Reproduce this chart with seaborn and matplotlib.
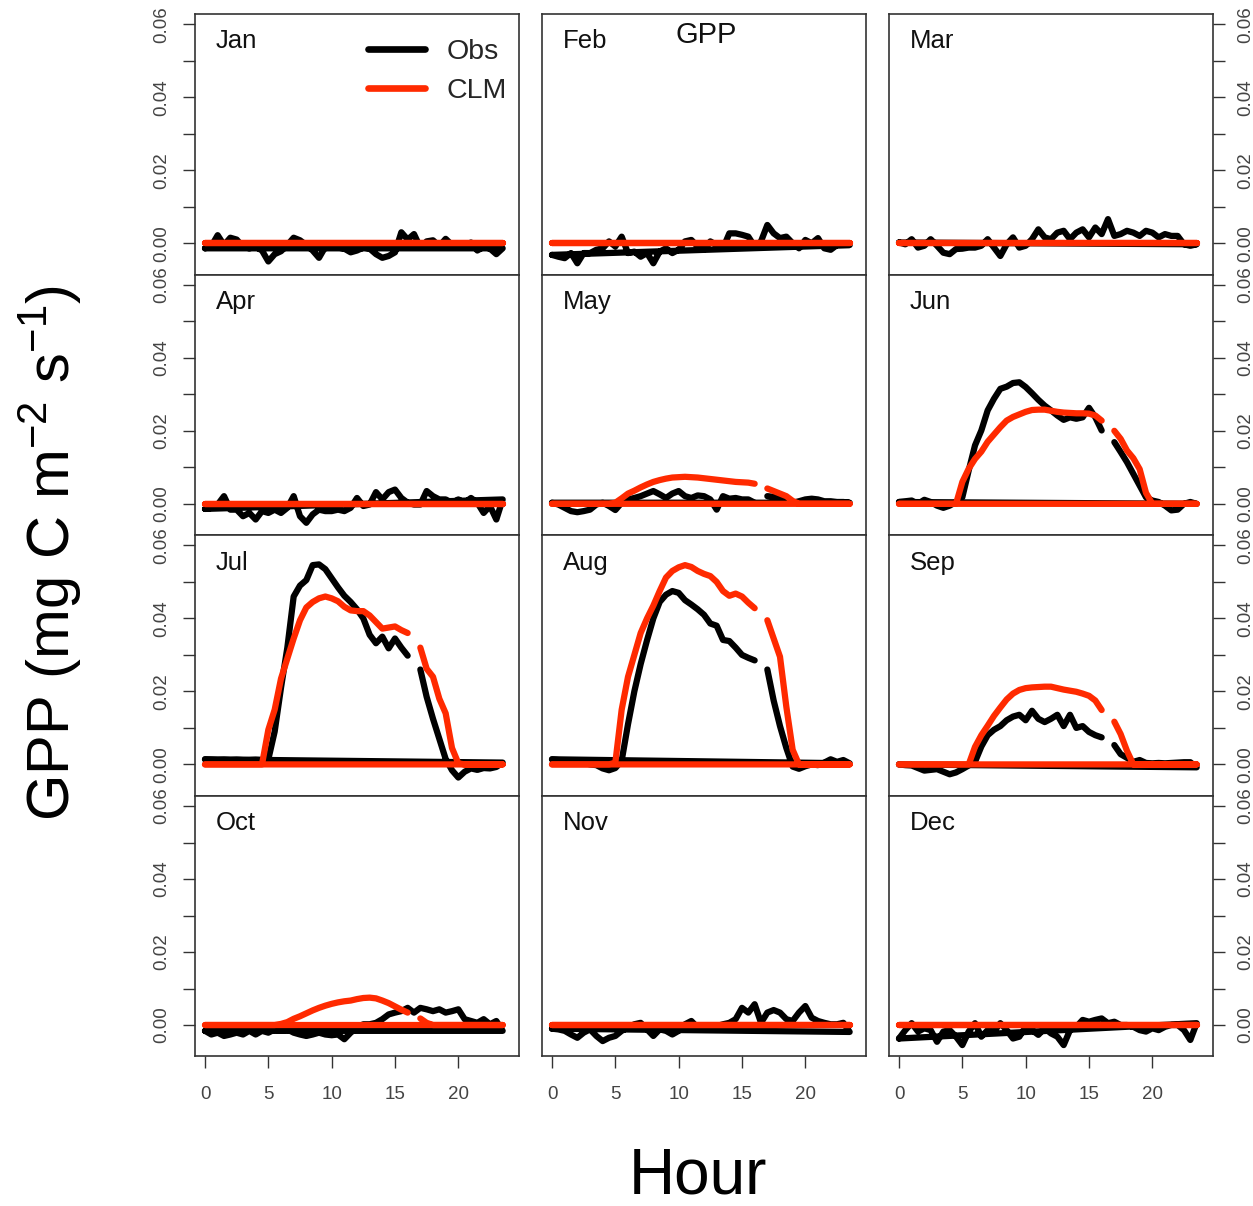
import numpy as np
import pandas as pd
import matplotlib
matplotlib.use("Agg")
import matplotlib.pyplot as plt
import seaborn as sns
from matplotlib.lines import Line2D

sns.set_theme(style="white")
plt.rcParams['font.family'] = ['Liberation Sans', 'DejaVu Sans']
plt.rcParams['mathtext.fontset'] = 'custom'
plt.rcParams['mathtext.rm'] = 'Liberation Sans'
plt.rcParams['mathtext.it'] = 'Liberation Sans:italic'
plt.rcParams['mathtext.default'] = 'regular'

# ---------------- data ----------------
months = ['Jan', 'Feb', 'Mar', 'Apr', 'May', 'Jun',
          'Jul', 'Aug', 'Sep', 'Oct', 'Nov', 'Dec']
hours = np.arange(48) * 0.5          # half-hourly time of day
xticks = [0, 5, 10, 15, 20]
yticks = [0.00, 0.01, 0.02, 0.03, 0.04, 0.05, 0.06]
ytick_labels = ['0.00', '', '0.02', '', '0.04', '', '0.06']
nan = np.nan

obs_jan = [-0.0014, -0.0008, 0.0022, -0.0005, 0.0015, 0.0010, -0.0010, -0.0014, -0.0010, -0.0020, -0.0050, -0.0030,
           -0.0022, -0.0005, 0.0015, 0.0008, -0.0005, -0.0020, -0.0040, -0.0010, -0.0008, -0.0012, -0.0015, -0.0025,
           -0.0020, -0.0012, -0.0015, -0.0030, -0.0040, -0.0035, -0.0025, 0.0030, 0.0010, 0.0025, -0.0012, 0.0005,
           0.0008, -0.0008, 0.0012, -0.0005, -0.0010, -0.0008, 0.0002, -0.0020, -0.0010, -0.0015, -0.0030, -0.0014]
obs_feb = [-0.0032, -0.0037, -0.0041, -0.0027, -0.0055, -0.0027, -0.0027, -0.0018, -0.0014, 0.0005, -0.0009, 0.0018,
           -0.0027, -0.0023, -0.0037, -0.0027, -0.0055, -0.0023, -0.0014, -0.0027, -0.0018, 0.0005, 0.0009, -0.0009,
           -0.0018, 0.0005, -0.0005, -0.0014, 0.0027, 0.0027, 0.0023, 0.0018, -0.0009, 0.0005, 0.0050, 0.0027,
           0.0014, 0.0018, 0.0000, -0.0014, 0.0009, 0.0000, 0.0014, -0.0014, -0.0018, -0.0005, -0.0005, -0.0005]
obs_mar = [0.0002, -0.0003, 0.0011, -0.0012, -0.0007, 0.0011, -0.0007, -0.0026, -0.0030, -0.0016, -0.0015, -0.0012,
           -0.0012, -0.0007, 0.0011, -0.0012, -0.0035, -0.0003, 0.0016, -0.0012, -0.0007, 0.0011, 0.0038, 0.0016,
           0.0011, 0.0029, 0.0034, 0.0011, 0.0029, 0.0038, 0.0016, 0.0043, 0.0025, 0.0066, 0.0020, 0.0025,
           0.0034, 0.0029, 0.0020, 0.0034, 0.0029, 0.0016, 0.0025, 0.0020, 0.0020, -0.0003, -0.0007, -0.0003]
obs_apr = [-0.0014, -0.0011, -0.0002, 0.0021, -0.0016, -0.0016, -0.0034, -0.0025, -0.0043, -0.0020, -0.0025, -0.0016,
           -0.0025, -0.0011, 0.0021, -0.0034, -0.0052, -0.0029, -0.0016, -0.0020, -0.0020, -0.0016, -0.0020, -0.0011,
           0.0016, -0.0006, -0.0002, 0.0032, 0.0012, 0.0032, 0.0039, 0.0016, 0.0003, -0.0002, -0.0002, 0.0035,
           0.0021, 0.0012, 0.0012, 0.0003, 0.0012, 0.0003, 0.0016, 0.0003, -0.0025, -0.0006, -0.0043, 0.0012]
obs_may = [0.0003, -0.0002, -0.0011, -0.0020, -0.0023, -0.0020, -0.0016, -0.0002, 0.0003, -0.0006, -0.0017, 0.0003,
           0.0012, 0.0016, 0.0021, 0.0028, 0.0035, 0.0026, 0.0016, 0.0028, 0.0035, 0.0021, 0.0016, 0.0023,
           0.0021, 0.0012, -0.0016, 0.0021, 0.0014, 0.0016, 0.0012, 0.0012, 0.0003, nan, 0.0021, 0.0019,
           0.0012, 0.0007, 0.0003, 0.0007, 0.0012, 0.0014, 0.0012, 0.0007, 0.0007, 0.0005, 0.0005, 0.0003]
obs_jun = [0.0005, 0.0007, 0.0009, 0.0000, 0.0011, 0.0005, -0.0005, -0.0011, -0.0005, 0.0005, 0.0018, 0.0091,
           0.0160, 0.0201, 0.0256, 0.0288, 0.0315, 0.0321, 0.0331, 0.0333, 0.0320, 0.0303, 0.0285, 0.0269,
           0.0256, 0.0242, 0.0230, 0.0237, 0.0233, 0.0237, 0.0263, 0.0237, 0.0201, nan, 0.0169, 0.0142,
           0.0114, 0.0082, 0.0050, 0.0018, 0.0009, 0.0005, -0.0005, -0.0018, -0.0016, 0.0000, 0.0005, 0.0000]
obs_jul = [0.0014, 0.0013, 0.0012, 0.0013, 0.0012, 0.0013, 0.0012, 0.0012, 0.0013, 0.0012, 0.0014, 0.0090,
           0.0210, 0.0320, 0.0460, 0.0490, 0.0505, 0.0546, 0.0548, 0.0535, 0.0510, 0.0485, 0.0462, 0.0445,
           0.0425, 0.0400, 0.0355, 0.0332, 0.0350, 0.0318, 0.0345, 0.0320, 0.0298, nan, 0.0260, 0.0185,
           0.0125, 0.0070, 0.0015, -0.0016, -0.0036, -0.0020, -0.0011, -0.0015, -0.0010, -0.0011, -0.0007, 0.0005]
obs_aug = [0.0014, 0.0012, 0.0010, 0.0008, 0.0005, 0.0005, 0.0000, -0.0002, -0.0011, -0.0016, -0.0010, 0.0010,
           0.0110, 0.0200, 0.0275, 0.0340, 0.0400, 0.0445, 0.0465, 0.0475, 0.0470, 0.0450, 0.0438, 0.0425,
           0.0410, 0.0386, 0.0380, 0.0341, 0.0338, 0.0320, 0.0300, 0.0292, 0.0285, nan, 0.0260, 0.0175,
           0.0105, 0.0045, -0.0006, -0.0012, -0.0005, 0.0000, -0.0002, 0.0005, 0.0014, 0.0007, 0.0012, 0.0003]
obs_sep = [0.0000, -0.0002, -0.0003, -0.0010, -0.0017, -0.0015, -0.0013, -0.0020, -0.0027, -0.0022, -0.0013, -0.0003,
           0.0007, 0.0049, 0.0080, 0.0095, 0.0105, 0.0121, 0.0131, 0.0136, 0.0121, 0.0147, 0.0125, 0.0116,
           0.0125, 0.0136, 0.0105, 0.0136, 0.0100, 0.0105, 0.0089, 0.0080, 0.0074, nan, 0.0053, 0.0028,
           0.0018, 0.0007, 0.0012, 0.0004, 0.0003, 0.0004, 0.0003, 0.0004, 0.0005, 0.0006, 0.0006, -0.0008]
obs_oct = [-0.0016, -0.0026, -0.0021, -0.0030, -0.0026, -0.0021, -0.0026, -0.0016, -0.0026, -0.0016, -0.0021, -0.0012,
           -0.0016, -0.0012, -0.0021, -0.0026, -0.0030, -0.0026, -0.0021, -0.0026, -0.0028, -0.0026, -0.0039, -0.0021,
           -0.0007, 0.0002, 0.0002, 0.0006, 0.0016, 0.0029, 0.0034, 0.0038, 0.0047, 0.0034, 0.0047, 0.0043,
           0.0038, 0.0043, 0.0034, 0.0038, 0.0043, 0.0016, 0.0011, 0.0006, 0.0016, 0.0002, 0.0011, -0.0016]
obs_nov = [-0.0010, -0.0012, -0.0016, -0.0026, -0.0035, -0.0021, -0.0012, -0.0030, -0.0044, -0.0035, -0.0030, -0.0016,
           -0.0007, 0.0002, 0.0006, -0.0012, -0.0030, -0.0012, -0.0016, -0.0026, -0.0016, 0.0002, 0.0011, -0.0007,
           -0.0012, -0.0007, -0.0003, 0.0002, 0.0006, 0.0016, 0.0047, 0.0034, 0.0057, 0.0006, 0.0034, 0.0041,
           0.0034, 0.0016, 0.0011, 0.0034, 0.0052, 0.0020, 0.0011, 0.0006, 0.0002, 0.0002, 0.0006, -0.0019]
obs_dec = [-0.0037, -0.0014, 0.0005, -0.0018, -0.0009, -0.0014, -0.0046, -0.0018, -0.0014, -0.0032, -0.0055, -0.0018,
           0.0005, -0.0032, -0.0014, -0.0018, 0.0005, -0.0014, -0.0037, -0.0032, -0.0005, -0.0014, -0.0027, -0.0009,
           -0.0023, -0.0032, -0.0055, -0.0014, -0.0005, 0.0014, 0.0009, 0.0014, 0.0018, 0.0005, 0.0009, 0.0000,
           0.0000, -0.0005, -0.0014, -0.0018, -0.0009, -0.0014, -0.0005, 0.0000, 0.0000, -0.0014, -0.0041, 0.0005]

clm_jan = [0.0, 0.0, 0.0, 0.0, 0.0, 0.0, 0.0, 0.0, 0.0, 0.0, 0.0, 0.0,
           0.0, 0.0, 0.0, 0.0, 0.0, 0.0, 0.0, 0.0, 0.0, 0.0, 0.0, 0.0,
           0.0, 0.0, 0.0, 0.0, 0.0, 0.0, 0.0, 0.0, 0.0, 0.0, 0.0, 0.0,
           0.0, 0.0, 0.0, 0.0, 0.0, 0.0, 0.0, 0.0, 0.0, 0.0, 0.0, 0.0]
clm_feb = [0.0, 0.0, 0.0, 0.0, 0.0, 0.0, 0.0, 0.0, 0.0, 0.0, 0.0, 0.0,
           0.0, 0.0, 0.0, 0.0, 0.0, 0.0, 0.0, 0.0, 0.0, 0.0, 0.0, 0.0,
           0.0, 0.0, 0.0, 0.0, 0.0, 0.0, 0.0, 0.0, 0.0, 0.0, 0.0, 0.0,
           0.0, 0.0, 0.0, 0.0, 0.0, 0.0, 0.0, 0.0, 0.0, 0.0, 0.0, 0.0]
clm_mar = [0.0, 0.0, 0.0, 0.0, 0.0, 0.0, 0.0, 0.0, 0.0, 0.0, 0.0, 0.0,
           0.0, 0.0, 0.0, 0.0, 0.0, 0.0, 0.0, 0.0, 0.0, 0.0, 0.0, 0.0,
           0.0, 0.0, 0.0, 0.0, 0.0, 0.0, 0.0, 0.0, 0.0, 0.0, 0.0, 0.0,
           0.0, 0.0, 0.0, 0.0, 0.0, 0.0, 0.0, 0.0, 0.0, 0.0, 0.0, 0.0]
clm_apr = [0.0, 0.0, 0.0, 0.0, 0.0, 0.0, 0.0, 0.0, 0.0, 0.0, 0.0, 0.0,
           0.0, 0.0, 0.0, 0.0, 0.0, 0.0, 0.0, 0.0, 0.0, 0.0, 0.0, 0.0,
           0.0, 0.0, 0.0, 0.0, 0.0, 0.0, 0.0, 0.0, 0.0, 0.0, 0.0, 0.0,
           0.0, 0.0, 0.0, 0.0, 0.0, 0.0, 0.0, 0.0, 0.0, 0.0, 0.0, 0.0]
clm_may = [0.0, 0.0, 0.0, 0.0, 0.0, 0.0, 0.0, 0.0, 0.0, 0.0, 0.0003, 0.0015,
           0.0028, 0.0036, 0.0045, 0.0053, 0.0060, 0.0065, 0.0069, 0.0072, 0.0073, 0.0074, 0.0073, 0.0072,
           0.0070, 0.0068, 0.0066, 0.0064, 0.0062, 0.0060, 0.0059, 0.0058, 0.0055, nan, 0.0042, 0.0035,
           0.0028, 0.0021, 0.0008, 0.0000, 0.0, 0.0, 0.0, 0.0, 0.0, 0.0, 0.0, 0.0]
clm_jun = [0.0, 0.0, 0.0, 0.0, 0.0, 0.0, 0.0, 0.0, 0.0, 0.0, 0.0060, 0.0096,
           0.0123, 0.0143, 0.0170, 0.0190, 0.0210, 0.0228, 0.0238, 0.0245, 0.0252, 0.0257, 0.0258, 0.0258,
           0.0255, 0.0252, 0.0250, 0.0249, 0.0248, 0.0248, 0.0247, 0.0242, 0.0228, nan, 0.0200, 0.0178,
           0.0146, 0.0125, 0.0095, 0.0030, 0.0000, 0.0, 0.0, 0.0, 0.0, 0.0, 0.0, 0.0]
clm_jul = [0.0, 0.0, 0.0, 0.0, 0.0, 0.0, 0.0, 0.0, 0.0, 0.0, 0.0095, 0.0150,
           0.0235, 0.0290, 0.0345, 0.0395, 0.0430, 0.0445, 0.0455, 0.0460, 0.0455, 0.0447, 0.0432, 0.0422,
           0.0420, 0.0420, 0.0408, 0.0390, 0.0372, 0.0375, 0.0378, 0.0368, 0.0360, nan, 0.0320, 0.0262,
           0.0240, 0.0180, 0.0140, 0.0045, 0.0003, 0.0, 0.0, 0.0, 0.0, 0.0, 0.0, 0.0]
clm_aug = [0.0, 0.0, 0.0, 0.0, 0.0, 0.0, 0.0, 0.0, 0.0, 0.0, 0.0005, 0.0150,
           0.0240, 0.0300, 0.0360, 0.0400, 0.0435, 0.0475, 0.0512, 0.0530, 0.0540, 0.0546, 0.0541, 0.0530,
           0.0522, 0.0516, 0.0500, 0.0475, 0.0462, 0.0468, 0.0460, 0.0443, 0.0428, nan, 0.0395, 0.0345,
           0.0295, 0.0158, 0.0040, 0.0000, 0.0, 0.0, 0.0, 0.0, 0.0, 0.0, 0.0, 0.0]
clm_sep = [0.0, 0.0, 0.0, 0.0, 0.0, 0.0, 0.0, 0.0, 0.0, 0.0, 0.0, 0.0,
           0.0048, 0.0080, 0.0106, 0.0133, 0.0156, 0.0178, 0.0194, 0.0204, 0.0209, 0.0211, 0.0212, 0.0213,
           0.0213, 0.0209, 0.0205, 0.0202, 0.0199, 0.0194, 0.0188, 0.0175, 0.0149, nan, 0.0117, 0.0083,
           0.0037, 0.0000, 0.0, 0.0, 0.0, 0.0, 0.0, 0.0, 0.0, 0.0, 0.0, 0.0]
clm_oct = [0.0, 0.0, 0.0, 0.0, 0.0, 0.0, 0.0, 0.0, 0.0, 0.0, 0.0, 0.0,
           0.0003, 0.0008, 0.0017, 0.0024, 0.0032, 0.0040, 0.0047, 0.0053, 0.0058, 0.0062, 0.0065, 0.0067,
           0.0071, 0.0074, 0.0075, 0.0073, 0.0067, 0.0060, 0.0051, 0.0042, 0.0034, nan, 0.0018, 0.0006,
           0.0000, 0.0, 0.0, 0.0, 0.0, 0.0, 0.0, 0.0, 0.0, 0.0, 0.0, 0.0]
clm_nov = [0.0, 0.0, 0.0, 0.0, 0.0, 0.0, 0.0, 0.0, 0.0, 0.0, 0.0, 0.0,
           0.0, 0.0, 0.0, 0.0, 0.0, 0.0, 0.0, 0.0, 0.0, 0.0, 0.0, 0.0,
           0.0, 0.0, 0.0, 0.0, 0.0, 0.0, 0.0, 0.0, 0.0, 0.0, 0.0, 0.0,
           0.0, 0.0, 0.0, 0.0, 0.0, 0.0, 0.0, 0.0, 0.0, 0.0, 0.0, 0.0]
clm_dec = [0.0, 0.0, 0.0, 0.0, 0.0, 0.0, 0.0, 0.0, 0.0, 0.0, 0.0, 0.0,
           0.0, 0.0, 0.0, 0.0, 0.0, 0.0, 0.0, 0.0, 0.0, 0.0, 0.0, 0.0,
           0.0, 0.0, 0.0, 0.0, 0.0, 0.0, 0.0, 0.0, 0.0, 0.0, 0.0, 0.0,
           0.0, 0.0, 0.0, 0.0, 0.0, 0.0, 0.0, 0.0, 0.0, 0.0, 0.0, 0.0]

obs_all = [obs_jan, obs_feb, obs_mar, obs_apr, obs_may, obs_jun,
           obs_jul, obs_aug, obs_sep, obs_oct, obs_nov, obs_dec]
clm_all = [clm_jan, clm_feb, clm_mar, clm_apr, clm_may, clm_jun,
           clm_jul, clm_aug, clm_sep, clm_oct, clm_nov, clm_dec]

# ---------------- style ----------------
W, H = 1253, 1206
DPI = 100
LW = 4.5
OBS_COLOR = 'black'
CLM_COLOR = '#ff2a00'
TICK_COLOR = '#444444'
FRAME_COLOR = '#333333'

fig = plt.figure(figsize=(W / DPI, H / DPI), dpi=DPI)

col_left = [195, 542, 889]
col_w = 324
row_top = 14
row_h = 260.6


def draw_series(ax, values, color):
    # series as recorded: consecutive half-hours, then back to the start of day
    y = list(values) + [values[0]]
    x = list(hours) + [hours[0]]
    seg = np.cumsum(np.isnan(np.array(y, dtype=float)))
    df = pd.DataFrame({'hour': x, 'gpp': y, 'seg': seg}).dropna()
    sns.lineplot(data=df, x='hour', y='gpp', units='seg', estimator=None,
                 sort=False, color=color, lw=LW, legend=False, ax=ax,
                 solid_capstyle='round', solid_joinstyle='round')


for i, m in enumerate(months):
    r, c = divmod(i, 3)
    left = col_left[c] / W
    bottom = 1 - (row_top + (r + 1) * row_h) / H
    ax = fig.add_axes([left, bottom, col_w / W, row_h / H])
    draw_series(ax, obs_all[i], OBS_COLOR)
    draw_series(ax, clm_all[i], CLM_COLOR)
    ax.set_xlim(-0.79, 24.79)
    ax.set_ylim(-0.0086, 0.0628)
    ax.set_xlabel('')
    ax.set_ylabel('')
    for sp in ax.spines.values():
        sp.set_color(FRAME_COLOR)
        sp.set_linewidth(1.2)
        sp.set_visible(True)
    ax.text(0.065, 0.895, m, transform=ax.transAxes, ha='left', va='center',
            fontsize=18.5, color='#111111')

    ax.set_xticks(xticks)
    if r == 3:
        ax.set_xticklabels([str(t) for t in xticks])
        ax.tick_params(axis='x', bottom=True, labelbottom=True, direction='out',
                       length=8.5, width=1.0, color=FRAME_COLOR, pad=13,
                       labelsize=13.5, labelcolor=TICK_COLOR)
    else:
        ax.tick_params(axis='x', bottom=False, labelbottom=False)

    ax.set_yticks(yticks)
    if c == 0:
        ax.set_yticklabels(ytick_labels, rotation=90, va='center')
        ax.tick_params(axis='y', left=True, labelleft=True, right=False, labelright=False,
                       direction='out', length=8.5, width=1.0, color=FRAME_COLOR,
                       pad=9, labelsize=13.5, labelcolor=TICK_COLOR)
    elif c == 2:
        ax.yaxis.tick_right()
        ax.set_yticklabels(ytick_labels, rotation=90, va='center')
        ax.tick_params(axis='y', left=False, labelleft=False, right=True, labelright=True,
                       direction='out', length=8.5, width=1.0, color=FRAME_COLOR,
                       pad=9, labelsize=13.5, labelcolor=TICK_COLOR)
    else:
        ax.tick_params(axis='y', left=False, labelleft=False, right=False, labelright=False)

    if m == 'Jan':
        handles = [Line2D([], [], color=OBS_COLOR, lw=LW + 0.3, solid_capstyle='round'),
                   Line2D([], [], color=CLM_COLOR, lw=LW + 0.3, solid_capstyle='round')]
        ax.legend(handles=handles, labels=['Obs', 'CLM'], loc='upper right',
                  bbox_to_anchor=(0.962, 0.905), frameon=False, fontsize=20.5,
                  handlelength=2.0, handletextpad=0.75, labelspacing=0.45,
                  borderpad=0, borderaxespad=0)
    if m == 'Feb':
        ax.text(0.506, 0.918, 'GPP', transform=ax.transAxes, ha='center', va='center',
                fontsize=21, color='#111111')

fig.text(50 / W, 1 - 553 / H, 'GPP (mg C m$^{-2}$ s$^{-1}$)', rotation=90,
         ha='center', va='center', fontsize=43, color='black')
fig.text(698 / W, 1 - 1193 / H, 'Hour', ha='center', va='baseline',
         fontsize=46, color='black')

fig.savefig('out.png', dpi=DPI)
